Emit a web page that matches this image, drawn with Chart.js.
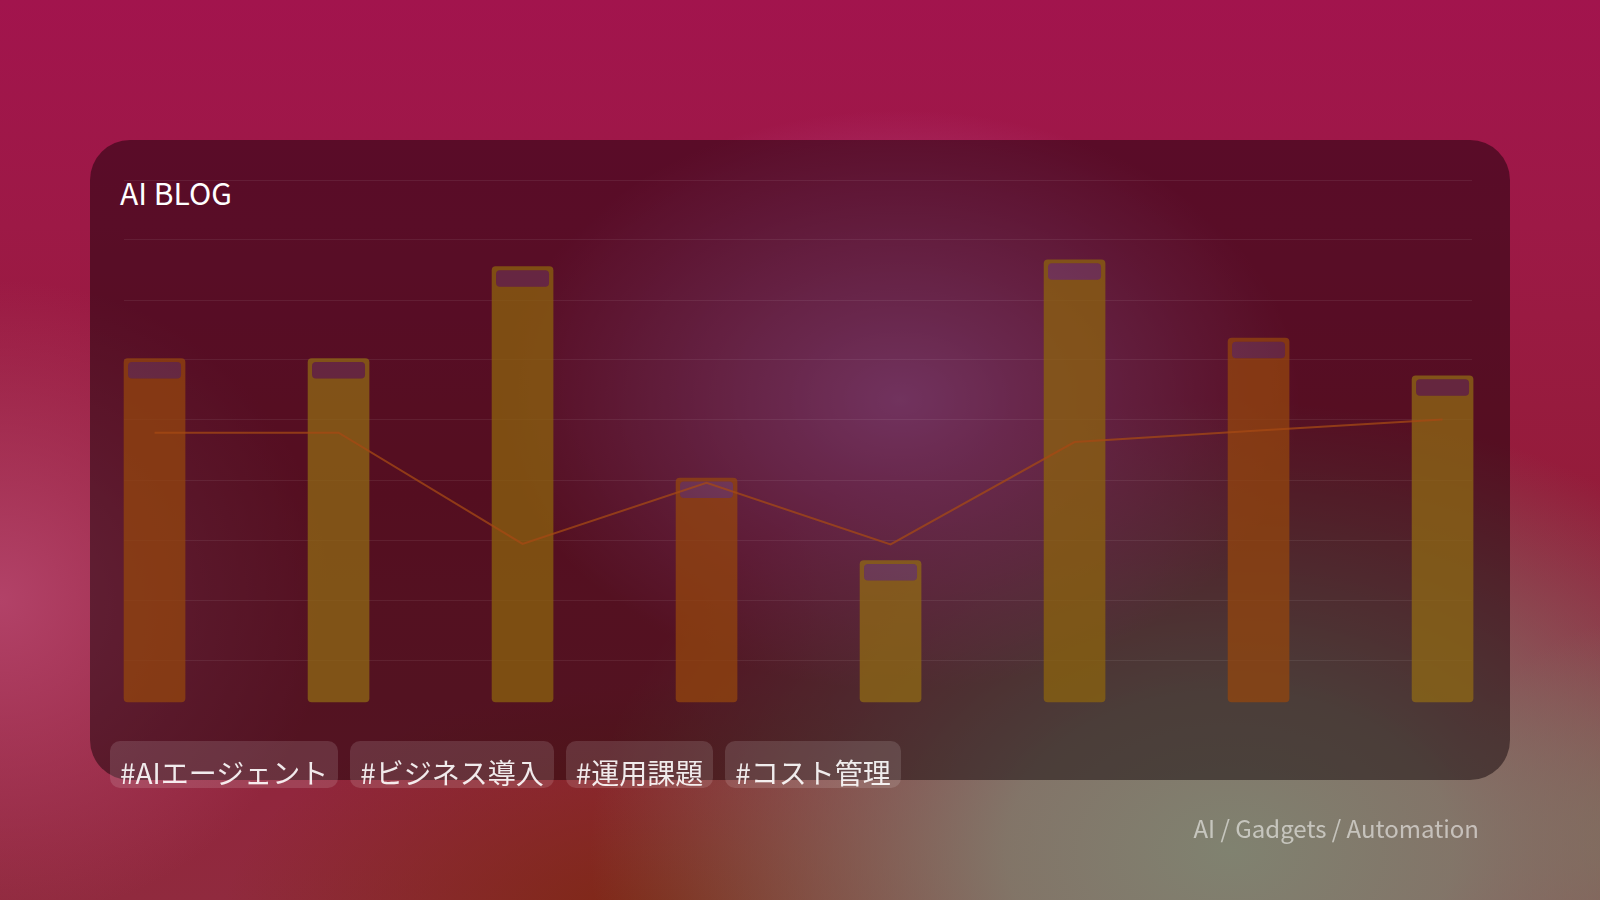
<!DOCTYPE html>
<html>
<head>
<meta charset="utf-8">
<script src="https://cdn.jsdelivr.net/npm/chart.js@4.4.1/dist/chart.umd.min.js"></script>
<style>
html,body{margin:0;padding:0;width:1600px;height:900px;overflow:hidden;}
body{
  position:relative;
  font-family:"Noto Sans CJK JP","Noto Sans",sans-serif;
  background:
    radial-gradient(ellipse 400px 290px at 900px 400px, rgba(205,100,180,0.95), rgba(205,100,180,0) 100%),
    radial-gradient(ellipse 640px 450px at 1230px 850px, rgba(128,130,112,1) 0%, rgba(128,130,112,0.85) 35%, rgba(128,130,112,0) 100%),
    radial-gradient(ellipse 440px 250px at 660px 930px, rgba(125,40,18,1), rgba(125,40,18,0) 100%),
    radial-gradient(ellipse 330px 320px at 0px 600px, rgba(178,66,104,1), rgba(178,66,104,0) 100%),
    radial-gradient(ellipse 200px 220px at 1640px 840px, rgba(128,90,78,1), rgba(128,90,78,0) 100%),
    linear-gradient(180deg, #a2144d 0%, #9d1946 25%, #941c3a 55%, #902a3e 100%);
}
#card{position:absolute;left:90px;top:140px;width:1420px;height:640px;border-radius:40px;background:rgba(12,0,5,0.47);}
#title{position:absolute;left:120px;top:177px;font-size:30px;line-height:30px;color:#ffffff;white-space:nowrap;}
#chart{position:absolute;left:0;top:0;}
.tags{position:absolute;left:110px;top:741px;display:flex;gap:12px;}
.tag{height:47px;box-sizing:border-box;padding:17px 10px 0;border-radius:10px;background:rgba(255,255,255,0.13);color:rgba(255,255,255,0.9);font-size:28px;line-height:28px;white-space:nowrap;}
#footer{position:absolute;right:121px;top:816px;font-size:24px;line-height:24px;color:rgba(255,255,255,0.55);white-space:nowrap;}
</style>
</head>
<body>
<div id="card"></div>
<div id="title">AI BLOG</div>
<canvas id="chart" width="1600" height="900"></canvas>
<div class="tags" id="tags"></div>
<div id="footer">AI / Gadgets / Automation</div>
<script>
const categories = ['P1','P2','P3','P4','P5','P6','P7','P8'];
const barValues = [65.8, 65.8, 83.4, 42.9, 27.1, 84.7, 69.7, 62.5];
const lineValues = [51.6, 51.6, 30.3, 42.0, 30.2, 49.8, 52.0, 54.1];
const gridTicks = [0, 1, 2, 3, 4, 5, 6, 7, 8];
const tagLabels = ['#AIエージェント', '#ビジネス導入', '#運用課題', '#コスト管理'];

const palette = ['rgba(148,70,14,0.74)', 'rgba(144,106,20,0.74)', 'rgba(140,100,14,0.74)'];

const tagsEl = document.getElementById('tags');
tagLabels.forEach(t => { const d = document.createElement('div'); d.className = 'tag'; d.textContent = t; tagsEl.appendChild(d); });

const capPlugin = {
  id: 'barCap',
  afterDatasetDraw(chart, args) {
    if (args.index !== 0) return;
    const ctx = chart.ctx;
    args.meta.data.forEach(bar => {
      const p = bar.getProps(['x', 'y', 'width'], true);
      const l = p.x - p.width / 2 + 4, t = p.y + 3.5, w = p.width - 8, h = 16.5;
      ctx.save();
      ctx.beginPath();
      ctx.roundRect(l, t, w, h, 4);
      ctx.globalCompositeOperation = 'destination-out';
      ctx.fillStyle = '#000';
      ctx.fill();
      ctx.globalCompositeOperation = 'source-over';
      ctx.fillStyle = 'rgba(190,180,230,0.15)';
      ctx.fill();
      ctx.restore();
    });
  }
};

new Chart(document.getElementById('chart'), {
  type: 'bar',
  data: {
    labels: categories,
    datasets: [
      {
        type: 'bar',
        label: 'bars',
        data: barValues.map((v, i) => ({ x: i, y: v })),
        backgroundColor: barValues.map((v, i) => palette[i % 3]),
        borderWidth: 0,
        borderRadius: 4,
        borderSkipped: false,
        barThickness: 61,
        clip: 6,
        order: 2,
        yAxisID: 'y'
      },
      {
        type: 'line',
        label: 'line',
        data: lineValues.map((v, i) => ({ x: i, y: v })),
        borderColor: 'rgba(165,74,20,0.75)',
        borderWidth: 2,
        pointRadius: 0,
        tension: 0,
        fill: false,
        order: 1,
        yAxisID: 'y'
      }
    ]
  },
  plugins: [capPlugin],
  options: {
    responsive: false,
    animation: false,
    layout: { padding: { left: 124, right: 128, top: 180, bottom: 198 } },
    plugins: { legend: { display: false }, tooltip: { enabled: false }, title: { display: false } },
    scales: {
      x: { type: 'linear', offset: false, min: -0.166, max: 7.16, display: false },
      y: { min: 0, max: 100, display: false },
      g: {
        position: 'left', min: -0.7, max: 8,
        afterBuildTicks: s => { s.ticks = gridTicks.map(v => ({ value: v })); },
        ticks: { display: false },
        border: { display: false },
        grid: { color: 'rgba(255,255,255,0.07)', lineWidth: 1, drawTicks: false }
      }
    }
  }
});
</script>
</body>
</html>
